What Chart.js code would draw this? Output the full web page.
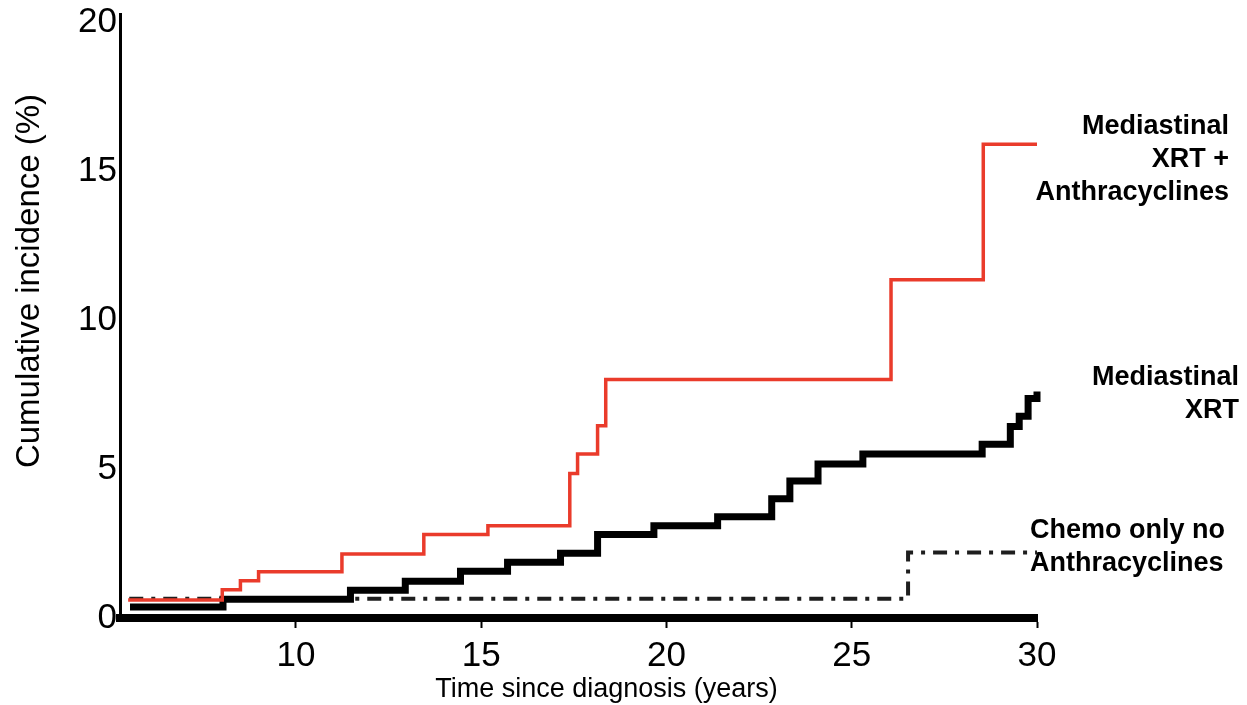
<!DOCTYPE html>
<html>
<head>
<meta charset="utf-8">
<script src="https://cdn.jsdelivr.net/npm/chart.js@4"></script>
<style>
    body { margin: 0; background: #ffffff; }
</style>
</head>
<body>
<canvas id="incidenceChart" width="1247" height="705"></canvas>
<script>
// tick values
const yearTicks = [10, 15, 20, 25, 30];
const incidenceTicks = [0, 5, 10, 15, 20];

// Mediastinal XRT + Anthracyclines (red)
const xrtAnthraTimes = [5.47, 8.01, 8.5, 8.99, 11.24, 13.45, 15.18, 17.39, 17.6, 18.14, 18.36, 26.06, 28.55, 30.0];
const xrtAnthraValues = [0.6, 0.95, 1.25, 1.55, 2.15, 2.8, 3.1, 4.85, 5.5, 6.45, 8.0, 11.35, 15.9, 15.9];

// Mediastinal XRT (black)
const xrtTimes = [5.52, 8.03, 11.47, 12.95, 14.44, 15.71, 17.14, 18.14, 19.66, 21.38, 22.84, 23.33, 24.09, 25.3, 28.52, 29.28, 29.52, 29.76, 30.0];
const xrtValues = [0.37, 0.63, 0.93, 1.23, 1.57, 1.87, 2.17, 2.8, 3.1, 3.4, 4.0, 4.6, 5.17, 5.5, 5.83, 6.43, 6.77, 7.37, 7.6];

// Chemo only no Anthracyclines (dash-dot)
const chemoTimes = [5.5, 26.52, 30.0];
const chemoValues = [0.65, 2.2, 2.2];

const seriesLabels = [
    ['Mediastinal', 'XRT +', 'Anthracyclines'],
    ['Mediastinal', 'XRT'],
    ['Chemo only no', 'Anthracyclines']
];
const xTitle = 'Time since diagnosis (years)';
const yTitle = 'Cumulative incidence (%)';

function toPoints(times, values) {
    return times.map((t, i) => ({ x: t, y: values[i] }));
}

// labels to the right of the curve ends + axis titles
const annotatePlugin = {
    id: 'annotate',
    afterDraw(chart) {
        const ctx = chart.ctx;
        const area = chart.chartArea;
        const spots = [
            { align: 'right', x: 1229, dy: 15 },
            { align: 'right', x: 1239, dy: 3 },
            { align: 'left', x: 1030, dy: -5 }
        ];
        ctx.save();
        ctx.fillStyle = '#000';
        ctx.font = 'bold 27px "Liberation Sans", Arial, sans-serif';
        ctx.textBaseline = 'middle';
        seriesLabels.forEach((lines, i) => {
            let meta = chart.getDatasetMeta(i);
            let last = meta.data[meta.data.length - 1];
            let cy = last.y + spots[i].dy;
            let lh = 33;
            ctx.textAlign = spots[i].align;
            lines.forEach((txt, j) => {
                ctx.fillText(txt, spots[i].x, cy + (j - (lines.length - 1) / 2) * lh);
            });
        });
        // axis titles
        ctx.textAlign = 'center';
        ctx.font = '27px "Liberation Sans", Arial, sans-serif';
        ctx.fillText(xTitle, (area.left + area.right) / 2 + 28, 690);
        ctx.translate(30, 281);
        ctx.rotate(-Math.PI / 2);
        ctx.font = '33px "Liberation Sans", Arial, sans-serif';
        ctx.fillText(yTitle, 0, 0);
        ctx.restore();
    }
};

let ctxChart = document.getElementById('incidenceChart');
let incidenceChart = new Chart(ctxChart, {
    type: 'line',
    data: {
        datasets: [
            {
                label: 'Mediastinal XRT + Anthracyclines',
                data: toPoints(xrtAnthraTimes, xrtAnthraValues),
                borderColor: '#ea3b2b',
                borderWidth: 3.5,
                stepped: 'before',
                pointRadius: 0,
                fill: false,
                clip: false
            },
            {
                label: 'Mediastinal XRT',
                data: toPoints(xrtTimes, xrtValues),
                borderColor: '#000000',
                borderWidth: 7,
                stepped: 'before',
                pointRadius: 0,
                fill: false,
                clip: false
            },
            {
                label: 'Chemo only no Anthracyclines',
                data: toPoints(chemoTimes, chemoValues),
                borderColor: '#1e1e1e',
                borderWidth: 4,
                borderDash: [14, 8, 4, 8],
                stepped: 'before',
                pointRadius: 0,
                fill: false,
                clip: false
            }
        ]
    },
    options: {
        responsive: false,
        maintainAspectRatio: false,
        animation: false,
        layout: {
            padding: { left: 0, right: 210, top: 14, bottom: 0 }
        },
        scales: {
            x: {
                type: 'linear',
                min: 5.25,
                max: 30,
                afterBuildTicks: scale => {
                    scale.ticks = yearTicks.map(v => ({ value: v }));
                },
                afterFit: scale => {
                    scale.height = 87;
                    scale.paddingLeft = 0;
                    scale.paddingRight = 0;
                },
                grid: {
                    drawOnChartArea: false,
                    drawTicks: true,
                    tickLength: 10,
                    tickWidth: 2,
                    tickColor: '#000'
                },
                border: { display: true, color: '#000', width: 8 },
                ticks: {
                    color: '#000',
                    padding: 7,
                    maxRotation: 0,
                    font: { family: '"Liberation Sans", Arial, sans-serif', size: 35 }
                }
            },
            y: {
                type: 'linear',
                min: 0,
                max: 20.27,
                afterBuildTicks: scale => {
                    scale.ticks = incidenceTicks.map(v => ({ value: v }));
                },
                afterFit: scale => {
                    scale.width = 120;
                    scale.paddingTop = 0;
                    scale.paddingBottom = 0;
                },
                grid: { drawOnChartArea: false, drawTicks: false },
                border: { display: true, color: '#000', width: 3 },
                ticks: {
                    color: '#000',
                    padding: 3,
                    font: { family: '"Liberation Sans", Arial, sans-serif', size: 35 }
                }
            }
        },
        plugins: {
            legend: { display: false },
            tooltip: { enabled: false }
        }
    },
    plugins: [annotatePlugin]
});
</script>
</body>
</html>
